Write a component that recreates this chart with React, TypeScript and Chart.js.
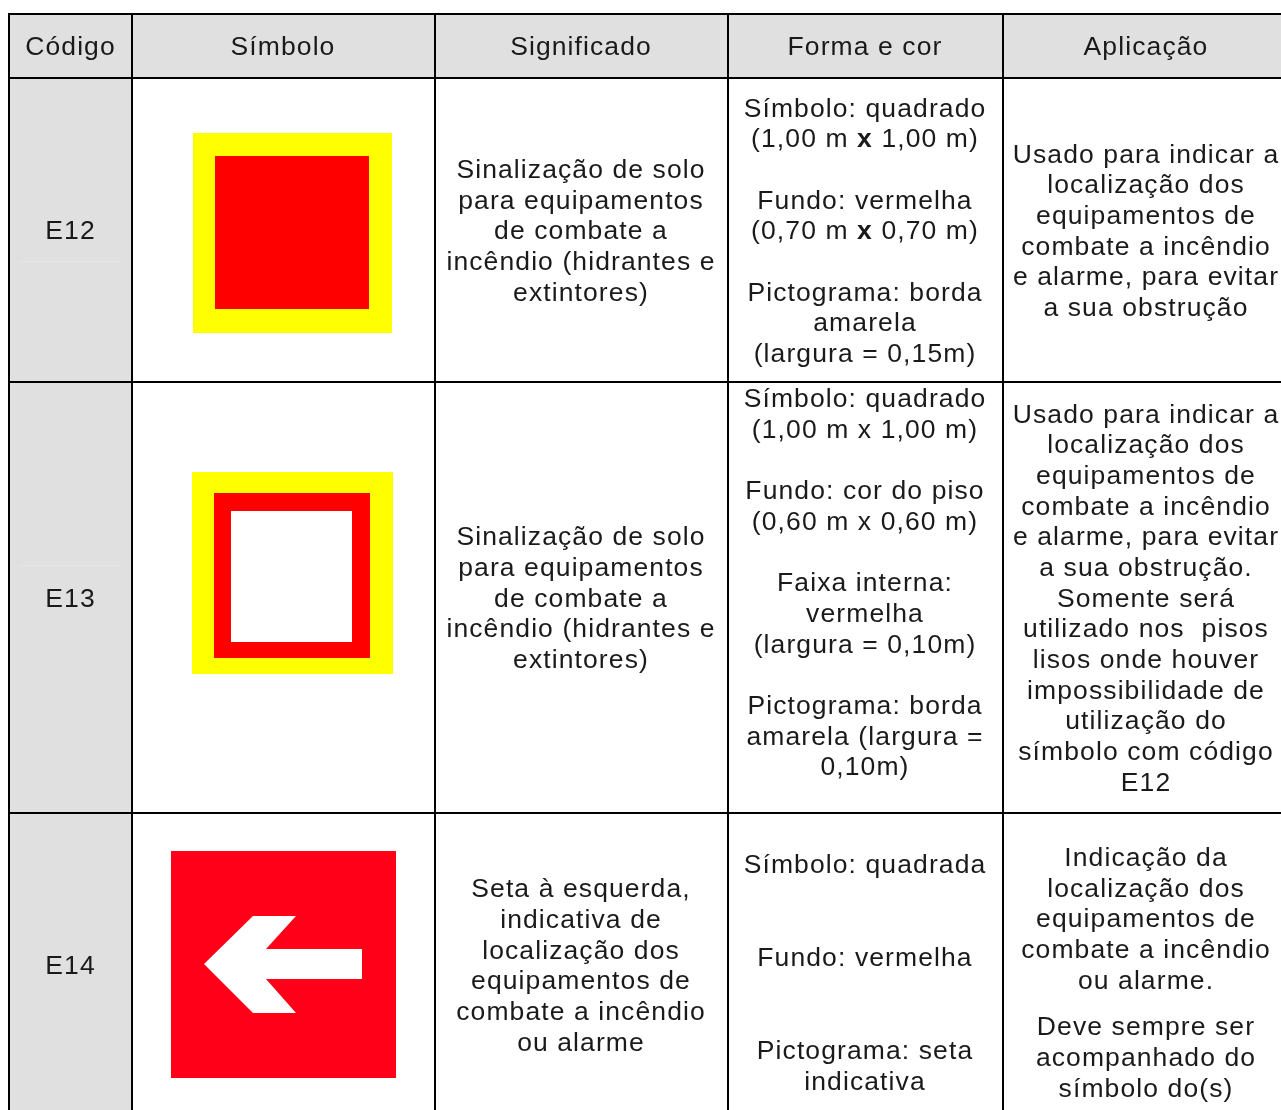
import React, { useEffect, useRef } from "react";
import { Chart, registerables } from "chart.js";

Chart.register(...registerables);

// ---- content ----
const headers = ["Código", "Símbolo", "Significado", "Forma e cor", "Aplicação"];
const codes = ["E12", "E13", "E14"];
const meaningE12 = ["Sinalização de solo", "para equipamentos", "de combate a", "incêndio (hidrantes e", "extintores)"];
const meaningE13 = meaningE12;
const meaningE14 = ["Seta à esquerda,", "indicativa de", "localização dos", "equipamentos de", "combate a incêndio", "ou alarme"];
const formE12 = ["Símbolo: quadrado", "(1,00 m *x* 1,00 m)", "Fundo: vermelha", "(0,70 m *x* 0,70 m)", "Pictograma: borda", "amarela", "(largura = 0,15m)"];
const formE13 = ["Símbolo: quadrado", "(1,00 m x 1,00 m)", "Fundo: cor do piso", "(0,60 m x 0,60 m)", "Faixa interna:", "vermelha", "(largura = 0,10m)", "Pictograma: borda", "amarela (largura =", "0,10m)"];
const formE14 = ["Símbolo: quadrada", "Fundo: vermelha", "Pictograma: seta", "indicativa"];
const useE12 = ["Usado para indicar a", "localização dos", "equipamentos de", "combate a incêndio", "e alarme, para evitar", "a sua obstrução"];
const useE13 = ["Usado para indicar a", "localização dos", "equipamentos de", "combate a incêndio", "e alarme, para evitar", "a sua obstrução.", "Somente será", "utilizado nos  pisos", "lisos onde houver", "impossibilidade de", "utilização do", "símbolo com código", "E12"];
const useE14 = ["Indicação da", "localização dos", "equipamentos de", "combate a incêndio", "ou alarme.", "Deve sempre ser", "acompanhado do", "símbolo do(s)"];

// ---- table grid, in the axes' units ----
const W = 1281;
const H = 1110;
const gridX = [9, 132, 435, 728, 1003];
const gridY = [14, 78, 382, 813];
const colCenters = [70.5, 283, 581, 865, 1146];

type P = { x: number; y: number };
const rect = (x0: number, y0: number, x1: number, y1: number): P[] => [
  { x: x0, y: y0 }, { x: x1, y: y0 }, { x: x1, y: y1 }, { x: x0, y: y1 }, { x: x0, y: y0 },
];
const seg = (x0: number, y0: number, x1: number, y1: number): P[] => [{ x: x0, y: y0 }, { x: x1, y: y1 }];

const arrowShape: P[] = [
  { x: 204, y: 964 }, { x: 253, y: 916 }, { x: 296, y: 916 }, { x: 266, y: 949 }, { x: 362, y: 949 },
  { x: 362, y: 979 }, { x: 266, y: 979 }, { x: 296, y: 1013 }, { x: 253, y: 1013 }, { x: 204, y: 964 },
];

const shapes: { pts: P[]; color: string }[] = [
  { pts: rect(10, 15, W, 77), color: "#e0e0e0" },
  { pts: rect(10, 79, 131, H), color: "#e0e0e0" },
  { pts: rect(19, 261, 122, 262), color: "#e6e6e6" },
  { pts: rect(19, 565, 122, 566), color: "#e6e6e6" },
  { pts: rect(193, 133, 392, 333), color: "#ffff00" },
  { pts: rect(215, 156, 369, 309), color: "#ff0000" },
  { pts: rect(192, 472, 393, 674), color: "#ffff00" },
  { pts: rect(214, 493, 370, 658), color: "#ff0000" },
  { pts: rect(231, 511, 352, 642), color: "#ffffff" },
  { pts: rect(171, 851, 396, 1078), color: "#ff0018" },
  { pts: arrowShape, color: "#ffffff" },
];

const rules: P[][] = [
  ...gridX.map((x) => seg(x, gridY[0] - 1, x, H)),
  ...gridY.map((y) => seg(gridX[0] - 1, y, W, y)),
];

// Baselines of each block's lines.
const blocks: { col: number; ys: number[]; lines: string[] }[] = [
  { col: 2, ys: [178, 209, 239, 270, 301], lines: meaningE12 },
  { col: 2, ys: [545, 576, 607, 637, 668], lines: meaningE13 },
  { col: 2, ys: [897, 928, 959, 989, 1020, 1051], lines: meaningE14 },
  { col: 3, ys: [117, 147, 209, 239, 301, 331, 362], lines: formE12 },
  { col: 3, ys: [407, 438, 499, 530, 591, 622, 653, 714, 745, 775], lines: formE13 },
  { col: 3, ys: [873, 966, 1059, 1090], lines: formE14 },
  { col: 4, ys: [163, 193, 224, 255, 285, 316], lines: useE12 },
  { col: 4, ys: [423, 453, 484, 515, 545, 576, 607, 637, 668, 699, 729, 760, 791], lines: useE13 },
  { col: 4, ys: [866, 897, 927, 958, 989, 1035, 1066, 1097], lines: useE14 },
];
const headerBaseline = 55;
const codeBaselines = [238.5, 607, 974];

const FONT_SIZE = 26.5;
const SPACING = "1.1px";
const TEXT_COLOR = "#1a1a1a";

const textPlugin = {
  id: "tableText",
  afterDatasetsDraw(chart: any) {
    const { ctx, scales } = chart;
    const sx = scales.x;
    const sy = scales.y;
    const draw = (line: string, xv: number, yv: number) => {
      if (!line) return;
      const parts = line.split("*");
      const fontFor = (i: number) =>
        `${i % 2 ? "bold " : ""}${FONT_SIZE}px "Liberation Sans"`;
      let total = 0;
      parts.forEach((p, i) => {
        ctx.font = fontFor(i);
        total += ctx.measureText(p).width;
      });
      let px = sx.getPixelForValue(xv) - total / 2;
      const py = sy.getPixelForValue(yv);
      parts.forEach((p, i) => {
        ctx.font = fontFor(i);
        ctx.fillText(p, px, py);
        px += ctx.measureText(p).width;
      });
    };
    ctx.save();
    ctx.fillStyle = TEXT_COLOR;
    ctx.textAlign = "left";
    ctx.textBaseline = "alphabetic";
    ctx.letterSpacing = SPACING;
    headers.forEach((h, i) => draw(h, colCenters[i], headerBaseline));
    codes.forEach((c, i) => draw(c, colCenters[0], codeBaselines[i]));
    blocks.forEach((b) =>
      b.lines.forEach((l, i) => draw(l, colCenters[b.col], b.ys[i]))
    );
    ctx.restore();
  },
};

export default function App() {
  const ref = useRef<HTMLCanvasElement>(null);
  useEffect(() => {
    if (!ref.current) return;
    const line = { showLine: true, pointRadius: 0, pointHoverRadius: 0, tension: 0, clip: false as any };
    const datasets: any[] = [
      ...shapes.map((s, i) => ({
        ...line,
        data: s.pts,
        fill: "shape",
        backgroundColor: s.color,
        borderWidth: 0,
        borderColor: "transparent",
        order: 1000 - i,
      })),
      ...rules.map((r, i) => ({
        ...line,
        data: r,
        fill: false,
        borderColor: "#000000",
        borderWidth: 2,
        borderCapStyle: "butt",
        order: 100 - i,
      })),
    ];
    const chart = new Chart(ref.current, {
      type: "scatter",
      data: { datasets },
      options: {
        animation: false,
        responsive: false,
        devicePixelRatio: 1,
        layout: { padding: 0 },
        events: [],
        scales: {
          x: { type: "linear", display: false, min: 0, max: W },
          y: { type: "linear", display: false, min: 0, max: H, reverse: true },
        },
        plugins: { legend: { display: false }, tooltip: { enabled: false }, title: { display: false } },
      },
      plugins: [textPlugin],
    } as any);
    return () => chart.destroy();
  }, []);
  return (
    <div style={{ position: "absolute", left: 0, top: 0, width: W, height: H, overflow: "hidden", background: "#fff" }}>
      <canvas ref={ref} width={W} height={H} style={{ display: "block" }} />
    </div>
  );
}
